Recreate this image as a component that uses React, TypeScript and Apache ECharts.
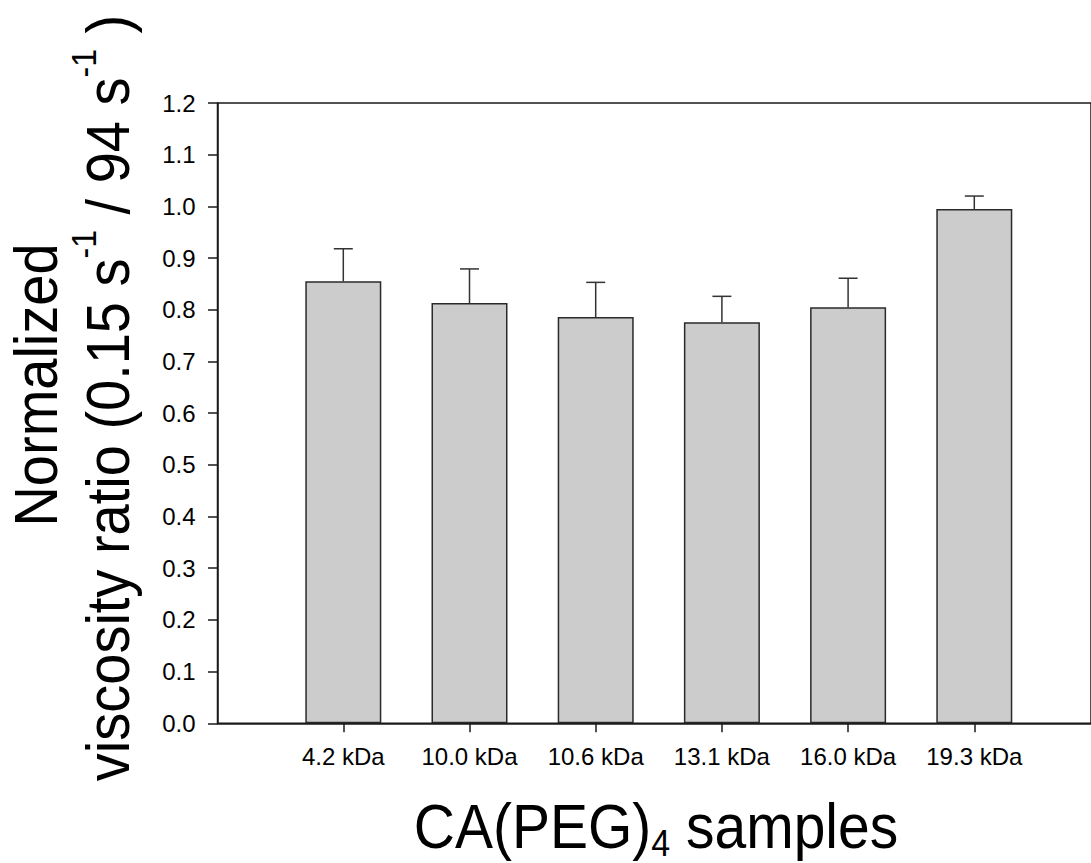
import React, { useEffect, useRef } from "react";
import * as echarts from "echarts";

const categories = ["4.2 kDa", "10.0 kDa", "10.6 kDa", "13.1 kDa", "16.0 kDa", "19.3 kDa"];
const ratioValues = [0.855, 0.813, 0.786, 0.776, 0.805, 0.995];
const ratioErrors = [0.063, 0.066, 0.067, 0.05, 0.056, 0.025];
const yMin = 0;
const yMax = 1.2;
const yStep = 0.1;

const FONT = "'Liberation Sans', Arial, Helvetica, sans-serif";
const INK = "#1a1a1a";

export default function App() {
  const ref = useRef<HTMLDivElement>(null);

  useEffect(() => {
    if (!ref.current) return;
    const chart = echarts.init(ref.current, null, { renderer: "svg" });
    const errData = categories.map((_, i) => [i, ratioValues[i], ratioErrors[i]]);

    chart.setOption({
      animation: false,
      backgroundColor: "#ffffff",
      grid: [
        {
          left: 217.5,
          top: 103,
          width: 900,
          height: 620.3,
          show: true,
          borderColor: INK,
          borderWidth: 1.5,
          backgroundColor: "transparent",
        },
        { left: 280.2, top: 103, width: 757.2, height: 620.3 },
      ],
      xAxis: [
        {
          gridIndex: 0,
          type: "category",
          data: [""],
          axisLine: { show: true, lineStyle: { color: INK, width: 1.5 } },
          axisTick: { show: false },
          axisLabel: { show: false },
          splitLine: { show: false },
        },
        {
          gridIndex: 1,
          type: "category",
          data: categories,
          axisLine: { show: false },
          axisTick: {
            show: true,
            alignWithLabel: true,
            length: 9,
            lineStyle: { color: INK, width: 1.5 },
          },
          axisLabel: {
            interval: 0,
            fontSize: 24,
            fontFamily: FONT,
            color: "#000",
            margin: 21,
          },
          splitLine: { show: false },
        },
      ],
      yAxis: [
        {
          gridIndex: 0,
          type: "value",
          min: yMin,
          max: yMax,
          interval: yStep,
          axisLine: { show: true, lineStyle: { color: INK, width: 1.5 } },
          axisTick: { show: true, inside: false, length: 9.5, lineStyle: { color: INK, width: 1.5 } },
          axisLabel: {
            fontSize: 24,
            fontFamily: FONT,
            color: "#000",
            margin: 22,
            formatter: (v: number) => v.toFixed(1),
          },
          splitLine: { show: false },
        },
        { gridIndex: 1, type: "value", min: yMin, max: yMax, show: false, splitLine: { show: false } },
      ],
      series: [
        {
          type: "bar",
          xAxisIndex: 1,
          yAxisIndex: 1,
          data: ratioValues,
          barWidth: 76,
          itemStyle: { color: "#cccccc", borderColor: "#2a2a2a", borderWidth: 1.5 },
          z: 2,
        },
        {
          type: "custom",
          xAxisIndex: 1,
          yAxisIndex: 1,
          data: errData,
          encode: { x: 0, y: 1 },
          z: 3,
          renderItem: (params: any, api: any) => {
            const i = api.value(0);
            const v = api.value(1);
            const e = api.value(2);
            const base = api.coord([i, v]);
            const top = api.coord([i, v + e]);
            const hw = 9.5;
            const st = { stroke: "#333333", lineWidth: 1.5 };
            return {
              type: "group",
              children: [
                { type: "line", shape: { x1: base[0], y1: base[1], x2: top[0], y2: top[1] }, style: st },
                { type: "line", shape: { x1: top[0] - hw, y1: top[1], x2: top[0] + hw, y2: top[1] }, style: st },
              ],
            };
          },
        },
      ],
      graphic: [
        {
          type: "text",
          x: 36,
          y: 385,
          rotation: Math.PI / 2,
          scaleY: 1.08,
          style: {
            text: "Normalized",
            fontSize: 56,
            fontFamily: FONT,
            fill: "#000",
            align: "center",
            verticalAlign: "middle",
          },
        },
        {
          type: "text",
          x: 108,
          y: 398,
          rotation: Math.PI / 2,
          scaleY: 1.08,
          style: {
            text: "{a|viscosity ratio (0.15 s}{s|-1}{a| / 94 s}{s|-1}{a| )}",
            fill: "#000",
            align: "center",
            verticalAlign: "middle",
            rich: {
              a: { fontSize: 56, fontFamily: FONT, lineHeight: 76, fill: "#000" },
              s: { fontSize: 32, fontFamily: FONT, lineHeight: 32, verticalAlign: "top", fill: "#000" },
            },
          },
        },
        {
          type: "text",
          x: 656,
          y: 827,
          scaleY: 1.1,
          style: {
            text: "{a|CA(PEG)}{b|4}{a| samples}",
            fill: "#000",
            align: "center",
            verticalAlign: "middle",
            rich: {
              a: { fontSize: 57, fontFamily: FONT, lineHeight: 64, fill: "#000" },
              b: { fontSize: 34, fontFamily: FONT, lineHeight: 22, verticalAlign: "bottom", fill: "#000" },
            },
          },
        },
      ],
    });

    return () => chart.dispose();
  }, []);

  return (
    <div
      ref={ref}
      style={{ position: "absolute", left: 0, top: 0, width: 1091, height: 863, overflow: "hidden" }}
    />
  );
}
